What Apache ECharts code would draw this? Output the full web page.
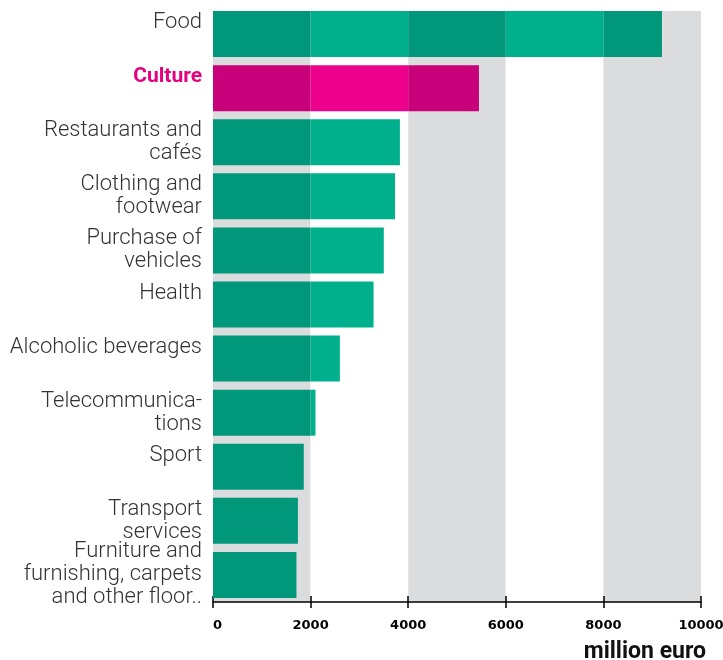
<!DOCTYPE html>
<html>
<head>
<meta charset="utf-8">
<script src="https://cdn.jsdelivr.net/npm/echarts@6/dist/echarts.min.js"></script>
<style>html,body{margin:0;padding:0;background:#fff}#c{width:723px;height:660px}</style>
</head>
<body>
<div id="c"></div>
<script>
const categories = ['Food','Culture','Restaurants and\ncafés','Clothing and\nfootwear','Purchase of\nvehicles','Health','Alcoholic beverages','Telecommunica-\ntions','Sport','Transport\nservices','Furniture and\nfurnishing, carpets\nand other floor..'];
const values = [9200,5450,3830,3730,3500,3290,2600,2100,1860,1740,1710];
const highlight = 'Culture';
const bandEdges = [0,2000,4000,6000,8000,10000];
const axisTitle = 'million euro';

const GREEN = ['#00977A','#00B08C'];
const MAGENTA = ['#C8007A','#EC008C'];
const GREY = '#DBDCDE';
const FONT = 'Roboto';

const series = [];
for (let b = 0; b < bandEdges.length - 1; b++) {
  const lo = bandEdges[b], hi = bandEdges[b + 1];
  series.push({
    type: 'bar', xAxisIndex: 2, yAxisIndex: 1, stack: 'total', barWidth: 46,
    silent: true,
    data: values.map((v, i) => ({
      value: Math.max(0, Math.min(v, hi) - lo),
      itemStyle: { color: (categories[i] === highlight ? MAGENTA : GREEN)[b % 2] }
    }))
  });
}

const chart = echarts.init(document.getElementById('c'), null, { renderer: 'canvas' });
chart.setOption({
  animation: false,
  grid: [
    { left: 213, right: 22, top: 11, bottom: 58, containLabel: false, outerBoundsMode: 'none' },
    { left: 213, right: 22, top: 7, bottom: 58, containLabel: false, outerBoundsMode: 'none' }
  ],
  xAxis: [
    { gridIndex: 0, type: 'value', min: 0, max: 10000, interval: 2000,
      axisLine: { show: true, lineStyle: { color: '#000', width: 1.5 } },
      axisTick: { show: true, length: 6, lineStyle: { color: '#000', width: 1.5 } },
      axisLabel: { color: '#000', fontFamily: 'DejaVu Sans', fontWeight: 'bold', fontSize: 13, margin: 17,
        alignMinLabel: 'left', hideOverlap: false, formatter: (v) => String(v) },
      splitLine: { show: false },
      splitArea: { show: true, areaStyle: { color: [GREY, '#FFFFFF'] } }
    },
    { gridIndex: 0, type: 'value', min: 0, max: 10000, interval: 2000, position: 'bottom',
      axisLine: { show: false },
      axisTick: { show: true, inside: true, length: 6, lineStyle: { color: '#000', width: 1.5 } },
      axisLabel: { show: false }, splitLine: { show: false }
    },
    { gridIndex: 1, type: 'value', min: 0, max: 10000, show: false }
  ],
  yAxis: [
    { gridIndex: 0, type: 'category', data: categories, inverse: true, show: false },
    { gridIndex: 1, type: 'category', data: categories, inverse: true,
      axisLine: { show: false }, axisTick: { show: false },
      axisLabel: {
        interval: 0, hideOverlap: false,
        margin: 11, fontFamily: FONT, fontWeight: 300, fontSize: 22, lineHeight: 23, color: '#333',
        formatter: (v) => {
          const t = v.indexOf('\n') < 0 ? v + '\n ' : v;
          return v === highlight ? '{hl|' + t + '}' : t;
        },
        rich: { hl: { color: '#E6007E', fontWeight: 'bold', fontFamily: FONT, fontSize: 21, lineHeight: 23 } }
      }
    }
  ],
  graphic: [
    { type: 'text', right: 17, top: 641, style: { text: axisTitle, font: 'bold 23px ' + FONT, fill: '#111' } }
  ],
  series: series
});
</script>
</body>
</html>
